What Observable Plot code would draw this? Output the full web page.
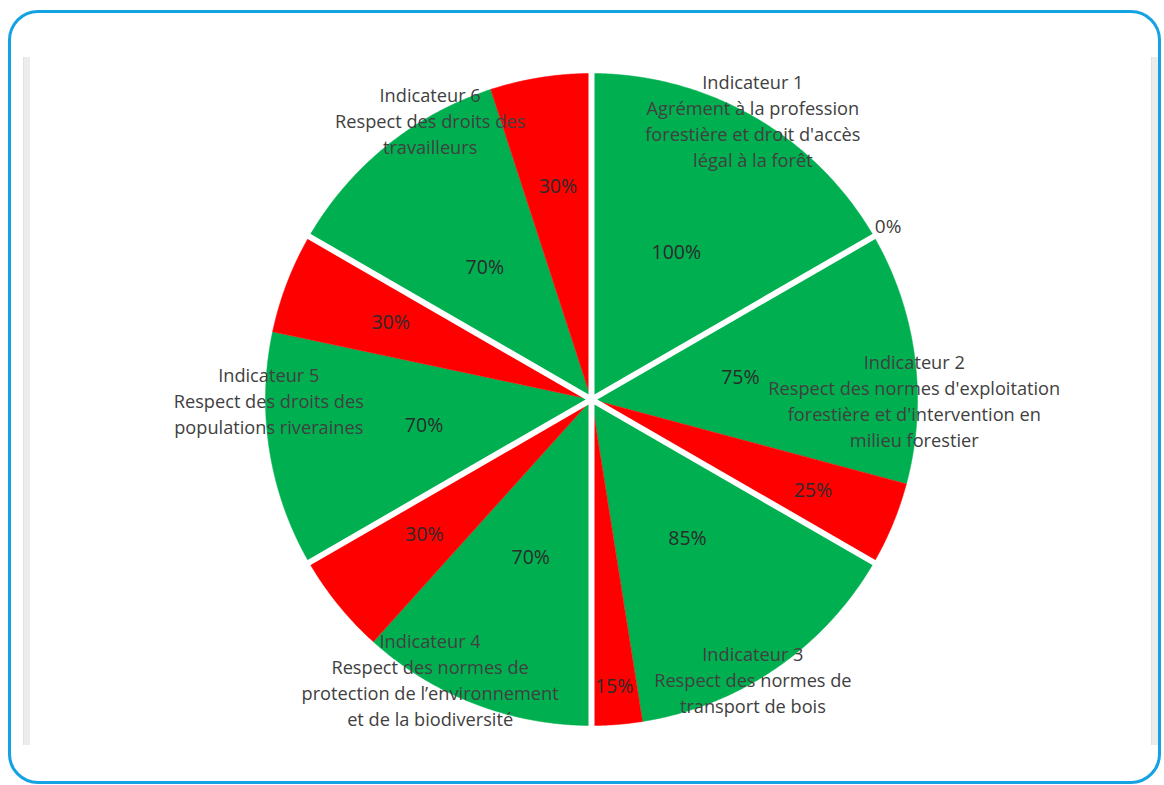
<!DOCTYPE html>
<html>
<head>
<meta charset="utf-8">
<script src="https://cdn.jsdelivr.net/npm/d3@7"></script>
<script src="https://cdn.jsdelivr.net/npm/@observablehq/plot@0.6"></script>
<style>
  html, body { margin: 0; padding: 0; background: #fff; width: 1164px; height: 785px; overflow: hidden; }
  #chart { position: absolute; left: 0; top: 0; }
  #frame { position: absolute; left: 8px; top: 10px; width: 1147px; height: 768px; border: 3px solid #15a2e2; border-radius: 30px; pointer-events: none; z-index: 2; }
  .rule { position: absolute; top: 57px; height: 688px; width: 6px; background: #ececec; border-left: 1px solid #e2e2e2; z-index: 1; }
</style>
</head>
<body>
<div id="chart"></div>
<div id="frame"></div>
<div class="rule" style="left:23px"></div>
<div class="rule" style="left:1151px"></div>
<script>
const indicators = [
  "Indicateur 1\nAgrément à la profession\nforestière et droit d'accès\nlégal à la forêt",
  "Indicateur 2\nRespect des normes d'exploitation\nforestière et d'intervention en\nmilieu forestier",
  "Indicateur 3\nRespect des normes de\ntransport de bois",
  "Indicateur 4\nRespect des normes de\nprotection de l’environnement\net de la biodiversité",
  "Indicateur 5\nRespect des droits des\npopulations riveraines",
  "Indicateur 6\nRespect des droits des\ntravailleurs"
];
const conforme = [100, 75, 85, 70, 70, 70];
const nonConforme = [0, 25, 15, 30, 30, 30];

const GREEN = "#00b050", RED = "#ff0000";
const deg = Math.PI / 180;
const n = indicators.length;
const sector = 360 / n;

// slices (angles in degrees, clockwise from top)
const slices = [];
indicators.forEach((name, i) => {
  const a0 = i * sector;
  const g = conforme[i] / 100 * sector;
  slices.push({id: `g${i}`, kind: "g", value: conforme[i], start: a0, end: a0 + g});
  slices.push({id: `r${i}`, kind: "r", value: nonConforme[i], start: a0 + g, end: a0 + sector});
});

// polygon vertices for each slice
const verts = [];
for (const s of slices) {
  if (s.end - s.start <= 0) continue;
  verts.push({id: s.id, kind: s.kind, x: 0, y: 0});
  const steps = Math.max(2, Math.ceil((s.end - s.start) * 2));
  for (let k = 0; k <= steps; k++) {
    const a = (s.start + (s.end - s.start) * k / steps) * deg;
    verts.push({id: s.id, kind: s.kind, x: Math.sin(a), y: Math.cos(a)});
  }
}

// percent labels
const pctLabels = slices.map(s => {
  const mid = (s.start + s.end) / 2 * deg;
  let r;
  if (s.value === 0) r = 1.06;
  else if (s.kind === "g") r = 0.52;
  else r = 0.66 + (30 - s.value) * 0.015;
  const anchor = s.value === 0 ? "start"
    : (s.kind === "g" && Math.sin(mid) > 0.95 ? "end" : "middle");
  return {text: `${s.value}%`, x: r * Math.sin(mid), y: r * Math.cos(mid), zero: s.value === 0, anchor};
});

// indicator labels
const indLabels = indicators.map((name, i) => {
  const mid = (i + 0.5) * sector * deg;
  return {text: name, x: 0.99 * Math.sin(mid), y: 0.99 * Math.cos(mid)};
});

// separators between indicators
const seps = indicators.map((_, i) => {
  const a = i * sector * deg;
  return {x2: 1.02 * Math.sin(a), y2: 1.02 * Math.cos(a)};
});

const cx = 591, cy = 399, R = 326, W = 1164, H = 785;
const pctMark = (data, anchor, extra = {}) =>
  Plot.text(data.filter(d => d.anchor === anchor), {x: "x", y: "y", text: "text", fontSize: 19.5, fill: "#2b2b2b", textAnchor: anchor, ...extra});

const chart = Plot.plot({
  width: W, height: H,
  marginLeft: cx - R, marginRight: W - (cx + R),
  marginTop: cy - R, marginBottom: H - (cy + R),
  x: {domain: [-1, 1], axis: null},
  y: {domain: [-1, 1], axis: null},
  style: {background: "transparent", fontFamily: "'Open Sans', sans-serif"},
  marks: [
    Plot.line(verts.filter(d => d.kind === "g"), {x: "x", y: "y", z: "id", fill: GREEN, stroke: GREEN, strokeWidth: 0.5}),
    Plot.line(verts.filter(d => d.kind === "r"), {x: "x", y: "y", z: "id", fill: RED, stroke: RED, strokeWidth: 0.5}),
    Plot.link(seps, {x1: 0, y1: 0, x2: "x2", y2: "y2", stroke: "white", strokeWidth: 6}),
    pctMark(pctLabels, "middle"),
    pctMark(pctLabels, "end"),
    pctMark(pctLabels, "start", {fill: "#404040", fontSize: 19, dx: -16}),
    Plot.text(indLabels, {x: "x", y: "y", text: "text", fontSize: 18.2, lineHeight: 1.43, fill: "#404040"})
  ]
});
document.getElementById("chart").appendChild(chart);
</script>
</body>
</html>
